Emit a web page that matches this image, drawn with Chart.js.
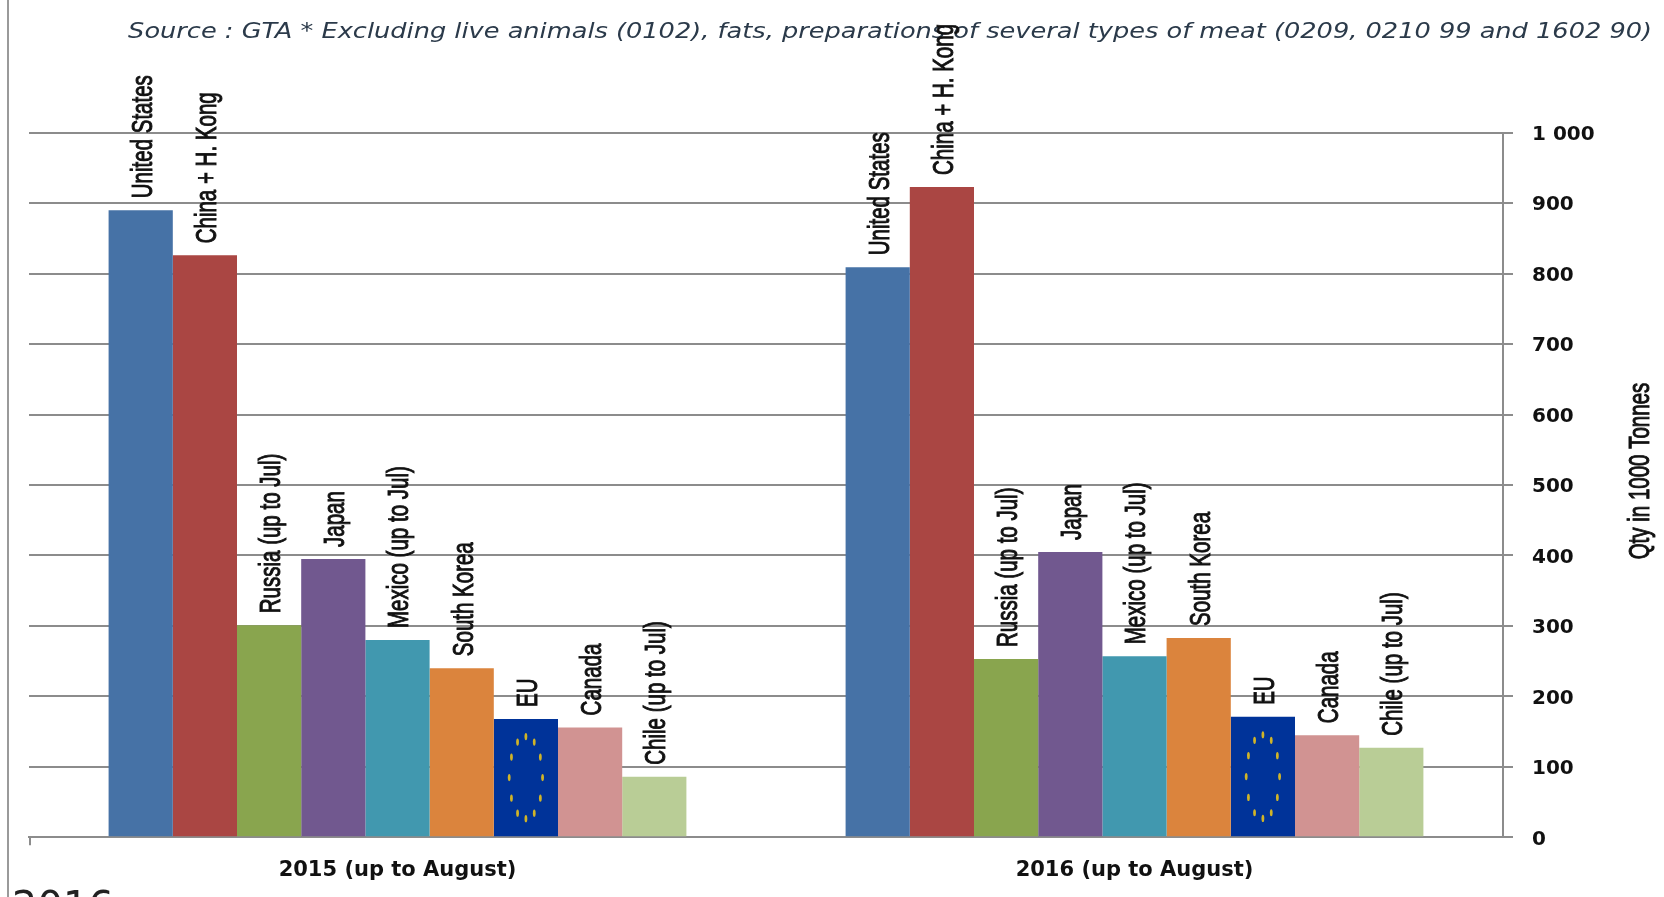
<!DOCTYPE html>
<html>
<head>
<meta charset="utf-8">
<title>Meat imports</title>
<script src="https://cdn.jsdelivr.net/npm/chart.js@4/dist/chart.umd.min.js"></script>
<style>
html, body { margin: 0; padding: 0; background: #fff; overflow: hidden; width: 1664px; height: 897px; }
#wrap { position: relative; width: 1664px; height: 897px; overflow: hidden; }
#edge { position: absolute; left: 7px; top: 0; bottom: 0; width: 2px; background: #9a9a9a; }
#nextPage { position: absolute; left: 12px; top: 886px; font: 40px/40px "DejaVu Sans", sans-serif; color: #222; }
canvas { position: absolute; left: 0; top: 0; filter: blur(0.7px); }
</style>
</head>
<body>
<div id="wrap">
  <canvas id="chart" width="1664" height="897"></canvas>
  <div id="edge"></div>
  <div id="nextPage">2016</div>
</div>
<script>
const periods = ["2015 (up to August)", "2016 (up to August)"];
const countries = ["United States", "China + H. Kong", "Russia (up to Jul)", "Japan", "Mexico (up to Jul)", "South Korea", "EU", "Canada", "Chile (up to Jul)"];
const unitedStates = [890, 809];
const chinaHK = [826, 923];
const russia = [301, 253];
const japan = [395, 405];
const mexico = [280, 257];
const southKorea = [240, 283];
const eu = [168, 171];
const canada = [156, 145];
const chile = [86, 127];
const barColors = ["#4672a6", "#aa4643", "#89a54e", "#71588f", "#4198af", "#db843d", "#003399", "#d19392", "#b9cd96"];
const yTicks = [0, 100, 200, 300, 400, 500, 600, 700, 800, 900, 1000];
const sourceNote = "Source : GTA * Excluding live animals (0102), fats, preparations of several types of meat (0209, 0210 99 and 1602 90)";
const yAxisLabel = "Qty in 1000 Tonnes";

const allSeries = [unitedStates, chinaHK, russia, japan, mexico, southKorea, eu, canada, chile];
const GRID = "#8c8c8c";
const EU_INDEX = countries.indexOf("EU");

// sideways text, the source picture is stretched across the text direction
function sideText(ctx, text, x, y, align) {
    ctx.save();
    ctx.translate(x, y);
    ctx.rotate(-Math.PI / 2);
    ctx.scale(1, 1.4);
    ctx.font = '20.5px "Liberation Sans", sans-serif';
    ctx.fillStyle = "#111";
    ctx.textAlign = align;
    ctx.textBaseline = "middle";
    ctx.fillText(text, 0, 0);
    ctx.strokeStyle = "#111";
    ctx.lineWidth = 0.7;
    ctx.strokeText(text, 0, 0);
    ctx.restore();
}

function drawStars(ctx, bar) {
    const cy = (bar.y + bar.base) / 2;
    const ry = (bar.base - bar.y) * 0.35;
    const rx = bar.width * 0.26;
    ctx.save();
    ctx.fillStyle = "#d0b428";
    for (let k = 0; k < 12; k++) {
        const a = k * Math.PI / 6;
        ctx.beginPath();
        ctx.ellipse(bar.x + rx * Math.sin(a), cy - ry * Math.cos(a), 1.4, 3.6, 0, 0, Math.PI * 2);
        ctx.fill();
    }
    ctx.restore();
}

const barLabels = {
    id: "barLabels",
    afterDatasetsDraw(chart) {
        const ctx = chart.ctx;
        const area = chart.chartArea;

        // note at the top, wider than any installed italic so it gets stretched
        ctx.save();
        ctx.translate(1652, 32);
        ctx.scale(1.165, 1);
        ctx.font = 'italic 22px "DejaVu Sans", sans-serif';
        ctx.fillStyle = "#2b3a4a";
        ctx.textAlign = "right";
        ctx.textBaseline = "middle";
        ctx.fillText(sourceNote, 0, 0);
        ctx.restore();

        chart.data.datasets.forEach((ds, i) => {
            chart.getDatasetMeta(i).data.forEach(bar => {
                if (i === EU_INDEX) drawStars(ctx, bar);
                sideText(ctx, ds.label, bar.x + 3, bar.y - 12, "left");
            });
        });

        // right axis name and the lone tick at the left end of the base line
        sideText(ctx, yAxisLabel, area.right + 138, (area.top + area.bottom) / 2 - 14, "center");
        ctx.strokeStyle = GRID;
        ctx.lineWidth = 2;
        ctx.beginPath();
        ctx.moveTo(area.left + 1, area.bottom);
        ctx.lineTo(area.left + 1, area.bottom + 8);
        ctx.stroke();
    }
};

new Chart(document.getElementById("chart"), {
    type: "bar",
    data: {
        labels: periods,
        datasets: countries.map((name, i) => ({
            label: name,
            data: allSeries[i],
            backgroundColor: barColors[i],
            categoryPercentage: 0.784,
            barPercentage: 1
        }))
    },
    options: {
        responsive: false,
        animation: false,
        layout: { padding: { left: 29, right: 12, top: 132.7, bottom: 0 } },
        plugins: {
            legend: { display: false },
            tooltip: { enabled: false }
        },
        scales: {
            x: {
                grid: { display: false },
                border: { display: true, color: GRID, width: 2 },
                ticks: { color: "#111", padding: 13, font: { family: '"DejaVu Sans", sans-serif', size: 21, weight: "bold" }, maxRotation: 0 },
                afterFit(s) { s.height = 59.7; }
            },
            y: {
                position: "right",
                min: 0,
                max: 1000,
                afterBuildTicks(s) { s.ticks = yTicks.map(v => ({ value: v })); },
                grid: { color: GRID, lineWidth: 2, tickLength: 10 },
                border: { display: true, color: GRID, width: 2 },
                ticks: {
                    color: "#111",
                    padding: 19,
                    font: { family: '"DejaVu Sans", sans-serif', size: 20, weight: "bold", lineHeight: 0.2 },
                    // empty first line pushes the number 2px below the grid line, as in the source
                    callback: v => ["", v >= 1000 ? "1 000" : String(v)]
                },
                afterFit(s) { s.width = 149; }
            }
        }
    },
    plugins: [barLabels]
});
</script>
</body>
</html>
